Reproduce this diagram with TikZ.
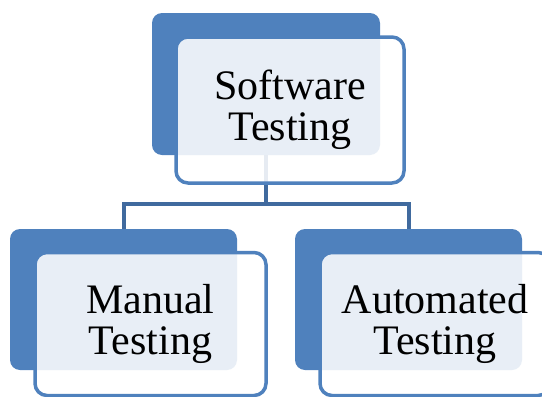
\documentclass[tikz,border=0pt]{standalone}
\usepackage{fontspec}
\setmainfont{LiberationSerif}[Extension=.ttf, UprightFont=*-Regular, BoldFont=*-Bold]
\definecolor{accent}{RGB}{79,129,189}
\definecolor{linkblue}{RGB}{64,106,158}

\tikzset{
  backbox/.style={fill=accent, rounded corners=10pt, inner sep=0pt,
    minimum width=227pt, minimum height=141pt},
  frontbox/.style={draw=accent, line width=3.5pt, fill=white, fill opacity=0.87,
    text opacity=1, rounded corners=12pt, inner sep=0pt, minimum height=143pt,
    align=center, font=\fontsize{42}{41}\selectfont},
  link/.style={draw=linkblue, line width=4pt}
}

\begin{document}
\begin{tikzpicture}[x=1pt,y=-1pt]
  \useasboundingbox (0,0) rectangle (542,397);

  % blue shadows
  \node[backbox, minimum width=228pt, minimum height=142pt] (swb) at (266,84) {};
  \node[backbox] (manb) at (123.5,299.5) {};
  \node[backbox] (autb) at (408.5,299.5) {};

  % tree lines
  \draw[link] (swb.south) -- ++(0,49) coordinate (split);
  \draw[link] (split) -| (manb.north);
  \draw[link] (split) -| (autb.north);

  % labelled boxes
  \node[frontbox, minimum width=228pt, minimum height=146pt] (sw) at (290,110) {Software\\Testing};
  \node[frontbox, minimum width=231pt] (man) at (150.5,324) {Manual\\Testing};
  \node[frontbox, minimum width=230pt] (aut) at (435,324) {Automated\\Testing};
\end{tikzpicture}
\end{document}
